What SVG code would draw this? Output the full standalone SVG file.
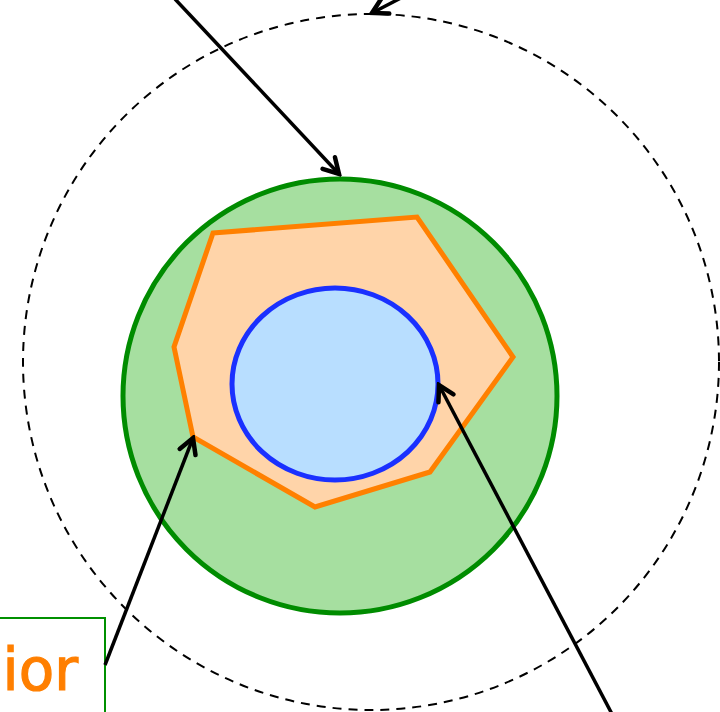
<svg xmlns="http://www.w3.org/2000/svg" width="720" height="712" viewBox="0 0 720 712">
<style>
.arr{fill:none;stroke:#000;stroke-width:3.5;marker-end:url(#ah)}
.lbl{font-family:"DejaVu Sans",sans-serif;font-size:58px;fill:#FF7F00;stroke:#FF7F00;stroke-width:1.2}
</style>
<defs>
<marker id="ah" viewBox="-18 -11 21 22" markerWidth="21" markerHeight="22" refX="0" refY="0" orient="auto" markerUnits="userSpaceOnUse">
<path d="M-15,-8.5 L0,0 L-15,8.5" fill="none" stroke="#000" stroke-width="4.5" stroke-linecap="round" stroke-linejoin="miter"/>
</marker>
</defs>
<rect width="720" height="712" fill="#fff"/>
<g id="outer">
<circle cx="371" cy="362" r="348" fill="none" stroke="#000" stroke-width="2" stroke-dasharray="9 7"/>
</g>
<g id="green">
<circle cx="340" cy="396" r="217" fill="#A6DFA0" stroke="#008C00" stroke-width="5"/>
</g>
<g id="orange">
<polygon points="213,233 417,217 513,357 430,472 315,507 193,437 174,347" fill="#FFD4A9" stroke="#FF8000" stroke-width="5" stroke-linejoin="miter"/>
</g>
<g id="blue">
<ellipse cx="335" cy="384" rx="103" ry="96" fill="#B8DEFF" stroke="#1A30FF" stroke-width="5"/>
</g>
<g id="label">
<rect x="-200" y="618" width="305" height="200" fill="#fff" stroke="#009000" stroke-width="2"/>
<text class="lbl" x="78" y="690" text-anchor="end">ior</text>
</g>
<g id="connectors">
<line class="arr" x1="175" y1="-1" x2="339" y2="174"/>
<line class="arr" x1="105" y1="665" x2="193" y2="438"/>
<line class="arr" x1="612" y1="714" x2="439" y2="385"/>
<line class="arr" x1="420" y1="-12" x2="372" y2="13"/>
</g>
</svg>
